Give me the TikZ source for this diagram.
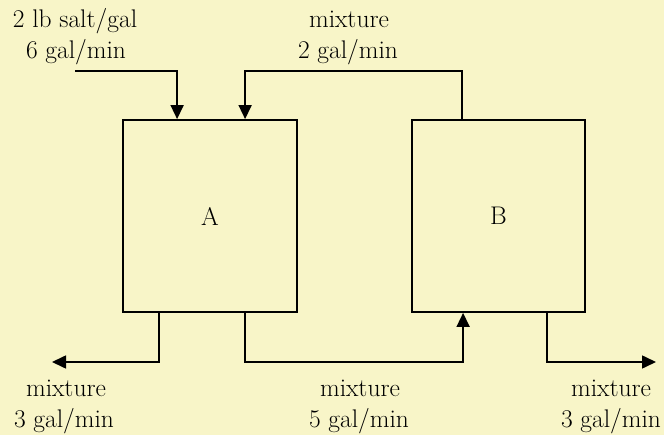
\documentclass[tikz,border=0pt]{standalone}
\usetikzlibrary{arrows.meta,calc}
\definecolor{paper}{RGB}{248,245,200}
\begin{document}
\begin{tikzpicture}[x=1pt,y=-1pt,
  tank/.style={draw,line width=1.8pt,minimum width=174pt,minimum height=192pt,inner sep=0pt,
    font=\rmfamily\fontsize{25.5}{30}\selectfont},
  pipe/.style={line width=1.6pt},
  arr/.style={pipe,-{Triangle[length=14pt,width=13pt]}},
  lbl/.style={anchor=base,inner sep=0pt,font=\rmfamily\fontsize{25.5}{30}\selectfont}]
\fill[paper] (0,0) rectangle (664,435);
\useasboundingbox (0,0) rectangle (664,435);
\node[tank] (A) at (210,216) {A};
\node[tank,minimum width=173pt] (B) at (498.5,216) {B};
% labels
\node[lbl] (t1) at (75,28) {2 lb salt/gal};
\node[lbl] (t2) at (76,59) {6 gal/min};
\node[lbl] (t3) at (349,28) {mixture};
\node[lbl] (t4) at (348,59) {2 gal/min};
\node[lbl] (b1) at (66,397) {mixture};
\node[lbl] (b2) at (64,428) {3 gal/min};
\node[lbl] (b3) at (360,397) {mixture};
\node[lbl] (b4) at (359,428) {5 gal/min};
\node[lbl] (b5) at (611,397) {mixture};
\node[lbl] (b6) at (611,428) {3 gal/min};
% free ends
\coordinate (in1) at (75,71);
\coordinate (outL) at (52,362);
\coordinate (outR) at (656,362);
% connectors
\draw[arr] (in1) -| ([xshift=55pt]A.north west);
\draw[arr] ([xshift=51pt]B.north west) |- (300,71) -| ([xshift=123pt]A.north west);
\draw[arr] ([xshift=37pt]A.south west) |- (outL);
\draw[arr] ([xshift=123pt]A.south west) |- (350,362) -| ([xshift=52pt]B.south west);
\draw[arr] ([xshift=136pt]B.south west) |- (outR);
\end{tikzpicture}
\end{document}
